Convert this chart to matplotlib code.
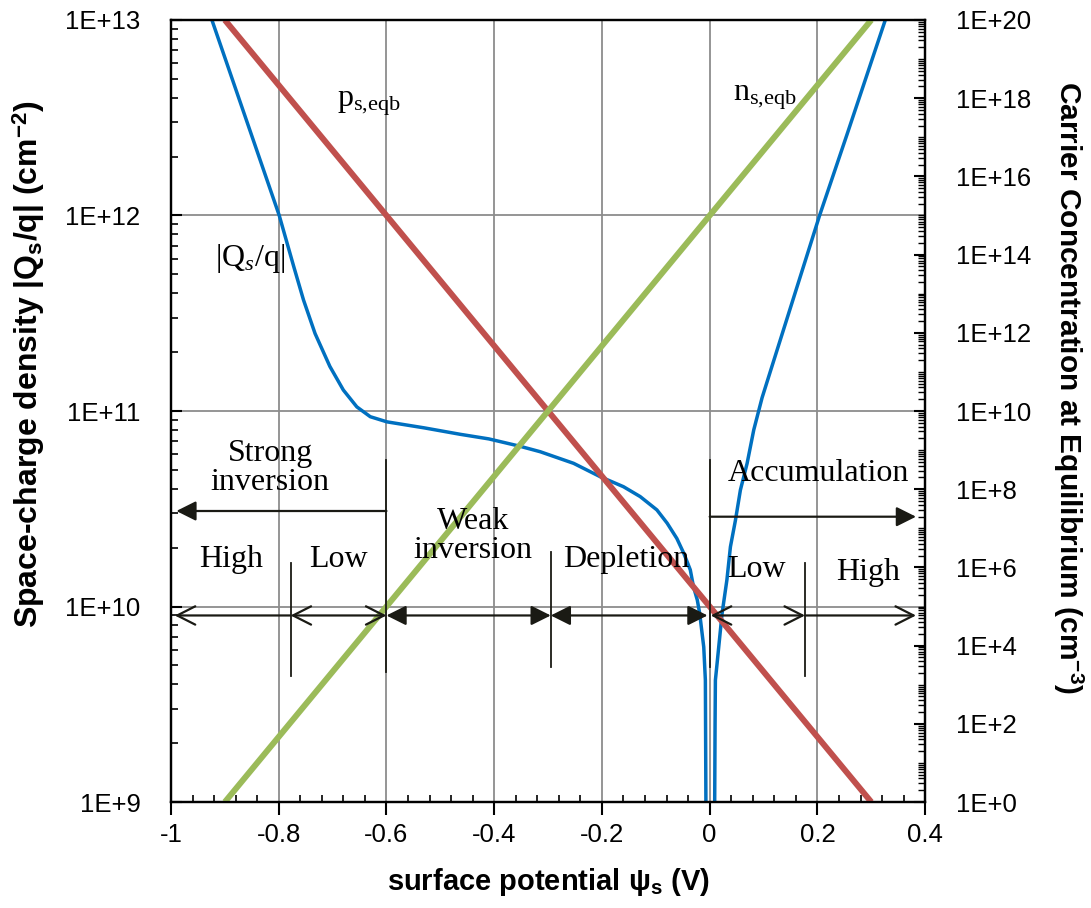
import numpy as np
import matplotlib
matplotlib.use('Agg')
import matplotlib.pyplot as plt
from matplotlib.lines import Line2D
from matplotlib.ticker import LogLocator, MultipleLocator, FuncFormatter, NullFormatter

plt.rcParams['font.family'] = ['Liberation Sans', 'DejaVu Sans']
plt.rcParams['mathtext.fontset'] = 'custom'
plt.rcParams['mathtext.rm'] = 'Liberation Serif'
plt.rcParams['mathtext.it'] = 'Liberation Serif:italic'
plt.rcParams['mathtext.sf'] = 'Liberation Sans:bold'

# |Qs/q| (cm^-2), left axis -- inversion/depletion side and accumulation side
psi_inv = [-0.924, -0.799, -0.772, -0.754, -0.7325, -0.705, -0.680, -0.655, -0.630,
           -0.599, -0.53, -0.463, -0.41, -0.352, -0.3145, -0.2526, -0.203, -0.160,
           -0.129, -0.098, -0.079, -0.061, -0.048, -0.036, -0.030, -0.023, -0.0185,
           -0.011, -0.008, -0.007]
qs_inv = [1e13, 1e12, 5.47e11, 3.7e11, 2.49e11, 1.69e11, 1.28e11, 1.05e11, 9.35e10,
          8.8e10, 8.2e10, 7.6e10, 7.2e10, 6.6e10, 6.19e10, 5.4e10, 4.61e10, 4.1e10,
          3.65e10, 3.12e10, 2.67e10, 2.23e10, 1.87e10, 1.54e10, 1.26e10, 1.08e10, 9.2e9,
          6.2e9, 4.2e9, 1e9]
psi_acc = [0.0093, 0.0100, 0.0106, 0.0137, 0.023, 0.032, 0.0385, 0.0477, 0.057, 0.0695,
           0.0818, 0.0973, 0.1128, 0.135, 0.204, 0.255, 0.326]
qs_acc = [1e9, 2.5e9, 4.2e9, 5.1e9, 9.2e9, 1.37e10, 2.02e10, 2.75e10, 3.94e10, 5.4e10,
          8e10, 1.17e11, 1.6e11, 2.5e11, 1e12, 2.6e12, 1e13]

# equilibrium carrier concentrations (cm^-3), right axis
psi_line = [-0.9, 0.3]
p_eqb = [1e20, 1e0]
n_eqb = [1e0, 1e20]

blue = '#0070C0'
red = '#C0504D'
green = '#9BBB59'
ink = '#1a1a14'

fig = plt.figure(figsize=(10.91, 9.08), dpi=100)
ax1 = fig.add_axes([0.1567, 0.1167, 0.6913, 0.8613])
ax2 = ax1.twinx()

ax1.plot(psi_inv, qs_inv, color=blue, lw=2.5)
ax1.plot(psi_acc, qs_acc, color=blue, lw=2.5)
ax2.plot(psi_line, p_eqb, color=red, lw=4.3, solid_capstyle='butt')
ax2.plot(psi_line, n_eqb, color=green, lw=4.3, solid_capstyle='butt')

ax1.set_xlim(-1, 0.4)
ax1.set_yscale('log')
ax1.set_ylim(1e9, 1e13)
ax2.set_yscale('log')
ax2.set_ylim(1e0, 1e20)

ax1.xaxis.set_major_locator(MultipleLocator(0.2))
ax1.xaxis.set_minor_locator(MultipleLocator(0.04))
ax1.xaxis.set_major_formatter(FuncFormatter(lambda v, p: f'{round(v, 2) + 0:g}'))
ax1.yaxis.set_major_locator(LogLocator(base=10, numticks=20))
ax1.yaxis.set_minor_locator(LogLocator(base=10, subs=np.arange(2, 10), numticks=20))
ax1.yaxis.set_minor_formatter(NullFormatter())
ax1.yaxis.set_major_formatter(FuncFormatter(lambda v, p: f'1E+{int(round(np.log10(v)))}'))

ax2.set_yticks([10.0 ** k for k in range(0, 21, 2)])
ax2.yaxis.set_minor_locator(LogLocator(base=10, subs=np.arange(1, 10), numticks=200))
ax2.yaxis.set_minor_formatter(NullFormatter())
ax2.yaxis.set_major_formatter(FuncFormatter(lambda v, p: f'1E+{int(round(np.log10(v)))}'))

ax1.tick_params(axis='x', which='major', direction='out', length=9, width=1.5, labelsize=18.5, pad=6)
ax1.tick_params(axis='x', which='minor', direction='in', length=5, width=1.2)
ax1.tick_params(axis='y', which='major', direction='in', length=8, width=1.5, labelsize=18.5, pad=22)
ax1.tick_params(axis='y', which='minor', direction='in', length=5, width=1.2)
ax2.tick_params(axis='y', which='major', direction='in', length=8, width=1.5, labelsize=18.5, pad=22)
ax2.tick_params(axis='y', which='minor', direction='in', length=5, width=1.0)

for ax in (ax1, ax2):
    for s in ax.spines.values():
        s.set_linewidth(1.6)

ax1.grid(which='major', color='#8c8c8c', lw=1.3)

ax1.set_xlabel(r'surface potential ψ$_{\mathsf{s}}$ (V)', fontsize=21, fontweight='bold', labelpad=14)
ax1.set_ylabel(r'Space-charge density |Q$_{\mathsf{s}}$/q| (cm$^{\mathsf{-2}}$)', fontsize=23,
               fontweight='bold')
ax1.yaxis.set_label_coords(-0.164, 0.56)
ax2.set_ylabel(r'Carrier Concentration at Equilibrium (cm$^{\mathsf{-3}}$)', fontsize=21.5,
               fontweight='bold', rotation=270, labelpad=0)
ax2.yaxis.set_label_coords(1.211, 0.53)

# annotations, placed in left-axis data coordinates
tr = ax1.transData
serif = dict(family='Liberation Serif', fontsize=23, color='black', ha='center', va='center',
             transform=tr, linespacing=1.0)
ax2.text(-0.632, 3.76e12, r'p$_{\mathrm{s{,}eqb}}$', **serif)
ax2.text(0.102, 4.0e12, r'n$_{\mathrm{s{,}eqb}}$', **serif)
ax2.text(-0.853, 6.0e11, r'|Q$_{\mathit{s}}$/q|', **serif)
ax2.text(-0.816, 5.1e10, 'Strong\ninversion', **serif)
ax2.text(-0.439, 2.3e10, 'Weak\ninversion', **serif)
ax2.text(-0.155, 1.75e10, 'Depletion', **serif)
ax2.text(0.202, 4.8e10, 'Accumulation', **serif)
ax2.text(-0.889, 1.75e10, 'High', **serif)
ax2.text(-0.690, 1.75e10, 'Low', **serif)
ax2.text(0.087, 1.55e10, 'Low', **serif)
ax2.text(0.295, 1.5e10, 'High', **serif)

filled = '-|>,head_length=0.6,head_width=0.3'
filled2 = '<|-|>,head_length=0.6,head_width=0.3'
opened = '->,head_length=0.65,head_width=0.33'
opened2 = '<->,head_length=0.65,head_width=0.33'


def harrow(x0, x1, y, style):
    ax2.annotate('', xy=(x1, y), xytext=(x0, y), xycoords=tr, textcoords=tr,
                 arrowprops=dict(arrowstyle=style, color=ink, lw=1.6, shrinkA=0, shrinkB=0,
                                 mutation_scale=20))


def vline(x, y0, y1):
    ax2.add_line(Line2D([x, x], [y0, y1], color=ink, lw=1.3, transform=tr))


harrow(-0.6, -0.99, 3.08e10, filled)
harrow(0.0, 0.383, 2.88e10, filled)
row = 9.0e9
harrow(-0.778, -0.993, row, opened)
harrow(-0.778, -0.6, row, opened2)
harrow(-0.6, -0.295, row, filled2)
harrow(-0.295, -0.004, row, filled2)
harrow(0.002, 0.177, row, opened2)
harrow(0.177, 0.383, row, opened)

vline(-0.6, 5.6e10, 4.6e9)
vline(-0.778, 1.66e10, 4.4e9)
vline(-0.295, 1.9e10, 4.9e9)
vline(0.0, 5.6e10, 4.9e9)
vline(0.177, 1.66e10, 4.4e9)

fig.savefig('out.png', dpi=100)
